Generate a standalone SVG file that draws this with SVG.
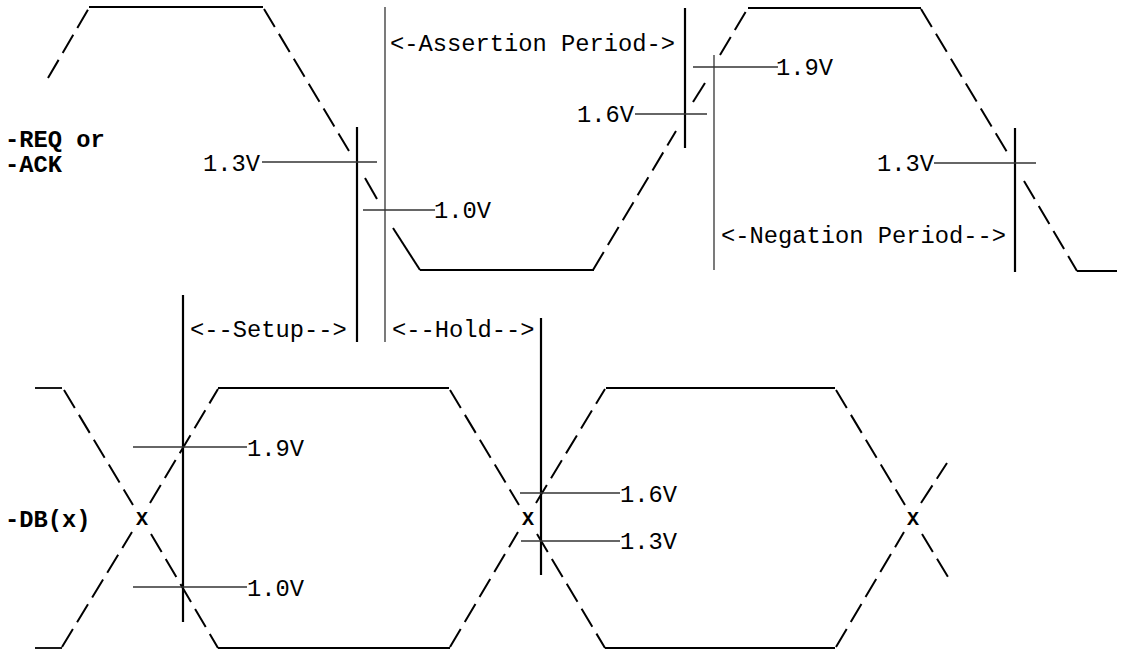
<svg xmlns="http://www.w3.org/2000/svg" width="1124" height="651" viewBox="0 0 1124 651">
<style>
  .sig { fill: none; stroke: #000; stroke-width: 2; stroke-linecap: butt; }
  .dash { fill: none; stroke: #000; stroke-width: 2; stroke-dasharray: 21 8; }
  .lvl { fill: none; stroke: #000; stroke-width: 1.8; }
  .thick { stroke: #000; stroke-width: 2.2; }
  .thin { stroke: #222; stroke-width: 1.2; }
  .thr { stroke: #333; stroke-width: 1.3; }
  text { font-family: "Liberation Mono", "Courier New", monospace; font-size: 23.75px; fill: #000; }
  .b { font-weight: bold; }
  .x { font-size: 20px; font-weight: bold; text-anchor: middle; }
  .e { text-anchor: end; }
</style>
<rect width="1124" height="651" fill="#fff"/>

<g id="req-ack-waveform">
  <line class="dash" x1="48" y1="78" x2="89" y2="8"/>
  <line class="lvl" x1="89" y1="7" x2="263" y2="7"/>
  <line class="dash" x1="264" y1="9" x2="349" y2="151"/>
  <line class="sig" x1="365" y1="178" x2="377" y2="199"/>
  <line class="sig" x1="393" y1="228" x2="420" y2="270"/>
  <line class="lvl" x1="420" y1="270" x2="594" y2="270"/>
  <line class="dash" x1="593" y1="270" x2="676" y2="131"/>
  <line class="sig" x1="693" y1="102" x2="705" y2="83"/>
  <line class="dash" x1="720" y1="55" x2="748" y2="8"/>
  <line class="lvl" x1="748" y1="8" x2="921" y2="8"/>
  <line class="dash" x1="921" y1="9" x2="1007" y2="152"/>
  <line class="dash" x1="1024" y1="181" x2="1077" y2="271"/>
  <line class="lvl" x1="1077" y1="271" x2="1117" y2="271"/>
</g>

<g id="db-waveform">
  <line class="lvl" x1="35" y1="388" x2="62" y2="388"/>
  <line class="lvl" x1="35" y1="648" x2="62" y2="648"/>
  <line class="dash" x1="64" y1="390" x2="133" y2="505"/>
  <line class="dash" x1="151" y1="534" x2="218" y2="648"/>
  <line class="dash" x1="62" y1="647" x2="132" y2="532"/>
  <line class="dash" x1="150" y1="503" x2="218" y2="389"/>
  <line class="lvl" x1="218" y1="388" x2="449" y2="388"/>
  <line class="lvl" x1="218" y1="648" x2="450" y2="648"/>
  <line class="dash" x1="450" y1="390" x2="519" y2="505"/>
  <line class="dash" x1="537" y1="534" x2="605" y2="648"/>
  <line class="dash" x1="450" y1="647" x2="518" y2="532"/>
  <line class="dash" x1="536" y1="503" x2="605" y2="389"/>
  <line class="lvl" x1="606" y1="388" x2="835" y2="388"/>
  <line class="lvl" x1="605" y1="648" x2="835" y2="648"/>
  <line class="dash" x1="836" y1="390" x2="905" y2="505"/>
  <line class="dash" x1="922" y1="534" x2="948" y2="577"/>
  <line class="dash" x1="836" y1="647" x2="904" y2="532"/>
  <line class="dash" x1="921" y1="503" x2="947" y2="463"/>
</g>

<g id="timing-markers">
  <line class="thick" x1="357" y1="127" x2="357" y2="342"/>
  <line class="thin" x1="385" y1="7" x2="385" y2="342"/>
  <line class="thick" x1="685" y1="8" x2="685" y2="148"/>
  <line class="thin" x1="714" y1="55" x2="714" y2="270"/>
  <line class="thick" x1="1015" y1="128" x2="1015" y2="272"/>
  <line class="thick" x1="183" y1="295" x2="183" y2="622"/>
  <line class="thick" x1="541" y1="318" x2="541" y2="575"/>
</g>

<g id="threshold-lines">
  <line class="thr" x1="262" y1="162" x2="377" y2="162"/>
  <line class="thr" x1="363" y1="210" x2="435" y2="210"/>
  <line class="thr" x1="693" y1="67" x2="778" y2="67"/>
  <line class="thr" x1="635" y1="114" x2="707" y2="114"/>
  <line class="thr" x1="934" y1="163" x2="1036" y2="163"/>
  <line class="thr" x1="133" y1="447" x2="247" y2="447"/>
  <line class="thr" x1="133" y1="587" x2="247" y2="587"/>
  <line class="thr" x1="520" y1="493" x2="620" y2="493"/>
  <line class="thr" x1="521" y1="541" x2="620" y2="541"/>
</g>

<g id="labels">
  <text class="b" x="5" y="147">-REQ or</text>
  <text class="b" x="5" y="172">-ACK</text>
  <text class="b" x="5" y="527">-DB(x)</text>
  <text x="390" y="51">&lt;-Assertion Period-&gt;</text>
  <text x="721" y="243">&lt;-Negation Period--&gt;</text>
  <text x="190" y="337">&lt;--Setup--&gt;</text>
  <text x="392" y="337">&lt;--Hold--&gt;</text>
  <text class="e" x="260" y="171">1.3V</text>
  <text x="434" y="218">1.0V</text>
  <text x="776" y="75">1.9V</text>
  <text class="e" x="634" y="122">1.6V</text>
  <text class="e" x="934" y="171">1.3V</text>
  <text x="247" y="456">1.9V</text>
  <text x="247" y="596">1.0V</text>
  <text x="620" y="502">1.6V</text>
  <text x="620" y="549">1.3V</text>
  <text class="x" x="142" y="525">X</text>
  <text class="x" x="528" y="525">X</text>
  <text class="x" x="913" y="525">X</text>
</g>
</svg>
